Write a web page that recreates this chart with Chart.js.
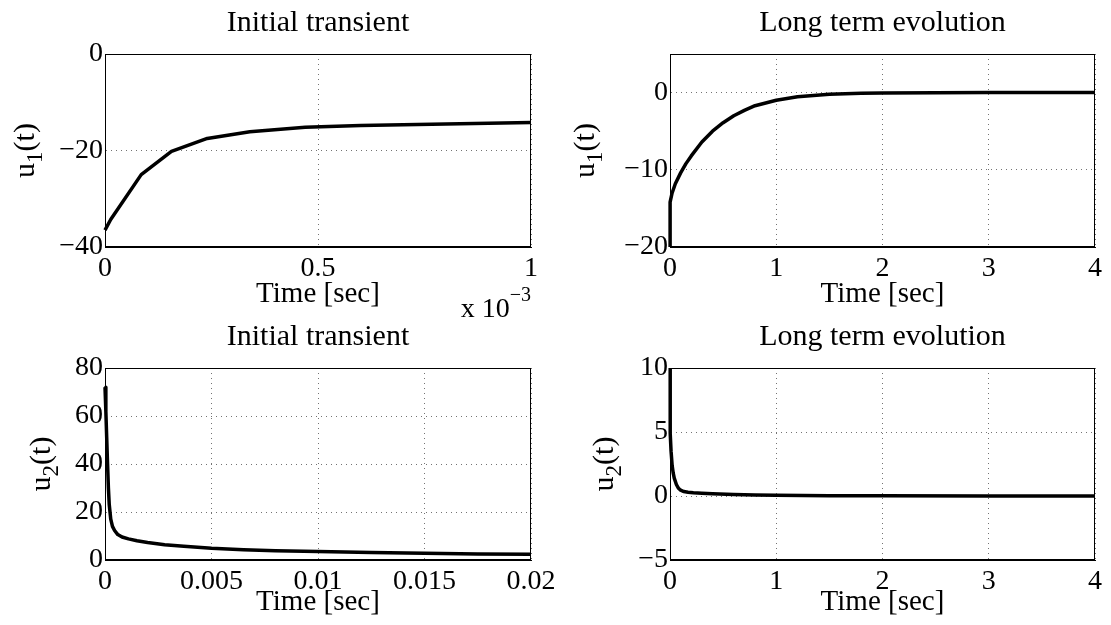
<!DOCTYPE html>
<html>
<head>
<meta charset="utf-8">
<script src="https://cdn.jsdelivr.net/npm/chart.js@4.4.1/dist/chart.umd.min.js"></script>
<style>
  html, body { margin: 0; padding: 0; background: #fff; }
  #wrap { position: relative; width: 1111px; height: 625px; }
  #wrap canvas { position: absolute; left: 0; top: 0; }
</style>
</head>
<body>
<div id="wrap">
  <canvas id="c1" width="1111" height="625"></canvas>
  <canvas id="c2" width="1111" height="625"></canvas>
  <canvas id="c3" width="1111" height="625"></canvas>
  <canvas id="c4" width="1111" height="625"></canvas>
</div>
<script>
// u1, initial transient (time in seconds)
const tTransient1 = [0, 0.0000134, 0.000085, 0.000156, 0.00024, 0.00034, 0.00047, 0.0006, 0.0008, 0.001];
const u1Transient = [-36.5, -34.3, -25.0, -20.2, -17.5, -16.1, -15.2, -14.8, -14.5, -14.2];

// u1, long term
const tLong1 = [0, 0.001, 0.02, 0.05, 0.1, 0.15, 0.2, 0.3, 0.4, 0.5, 0.6, 0.7, 0.8, 1.0, 1.2, 1.5, 1.8, 2.0, 2.5, 3.0, 3.5, 4.0];
const u1Long = [-36.5, -14.2, -13.0, -11.8, -10.4, -9.2, -8.2, -6.4, -5.0, -3.9, -3.0, -2.3, -1.7, -1.0, -0.55, -0.22, -0.09, -0.05, -0.02, 0, 0, 0];

// u2, initial transient
const tTransient2 = [0, 0.00004, 0.00008, 0.00012, 0.00016, 0.0002, 0.00027, 0.00035, 0.00045, 0.0006, 0.0008, 0.0011,
  0.0015, 0.002, 0.0028, 0.0037, 0.005, 0.0065, 0.008, 0.01, 0.0125, 0.015, 0.0175, 0.02];
const u2Transient = [72, 62, 51, 40, 30, 23, 17, 14, 12.3, 10.6, 9.6, 8.8,
  8.0, 7.3, 6.4, 5.7, 4.9, 4.3, 3.9, 3.5, 3.1, 2.8, 2.55, 2.4];

// u2, long term
const tLong2 = [0, 0.0002, 0.0006, 0.002, 0.005, 0.01, 0.02, 0.03, 0.04, 0.06, 0.08, 0.1,
  0.13, 0.17, 0.22, 0.3, 0.4, 0.6, 0.8, 1.0, 1.5, 2, 3, 4];
const u2Long = [72, 23, 10.6, 7.3, 4.9, 3.5, 2.4, 1.8, 1.4, 0.9, 0.6, 0.45,
  0.35, 0.3, 0.26, 0.22, 0.18, 0.12, 0.08, 0.05, 0.02, 0.01, 0, 0];

// axis ticks and ranges
const xTicksTransient1 = [0, 0.0005, 0.001];
const yTicksTransient1 = [-40, -20, 0];
const yRangeTransient1 = [-40, 0];
const xTicksLong = [0, 1, 2, 3, 4];
const yTicksLong1 = [-20, -10, 0];
const yRangeLong1 = [-20, 5];
const xTicksTransient2 = [0, 0.005, 0.01, 0.015, 0.02];
const yTicksTransient2 = [0, 20, 40, 60, 80];
const yRangeTransient2 = [0, 80];
const yTicksLong2 = [-5, 0, 5, 10];
const yRangeLong2 = [-5, 10];

const titleTransient = 'Initial transient';
const titleLong = 'Long term evolution';
const xLabel = 'Time [sec]';

const W = 1111, H = 625;
const FAMILY = '"Liberation Serif", "Times New Roman", serif';
const FS = 28;      // tick labels
const FS_LABEL = 30; // titles and axis labels

function fmt(v) {
  const s = String(parseFloat(v.toFixed(8)));
  return s.replace('-', '\u2212');
}

const panelPlugin = {
  id: 'panel',
  afterDraw(chart, args, opts) {
    const ctx = chart.ctx;
    const a = chart.chartArea;
    ctx.save();
    ctx.strokeStyle = '#000';
    ctx.lineWidth = 1;
    ctx.strokeRect(Math.round(a.left) + 0.5, Math.round(a.top) + 0.5,
      Math.round(a.right - a.left) - 1, Math.round(a.bottom - a.top) - 1);

    ctx.fillStyle = '#000';
    ctx.textAlign = 'center';
    ctx.textBaseline = 'alphabetic';
    const cx = (a.left + a.right) / 2;
    ctx.font = FS_LABEL + 'px ' + FAMILY;
    ctx.fillText(opts.title, cx, a.top - 23);
    ctx.font = '29px ' + FAMILY;
    ctx.fillText(xLabel, cx, a.bottom + opts.xLabelGap);

    if (opts.exponent) {
      ctx.font = '20px ' + FAMILY;
      ctx.textAlign = 'right';
      const ew = ctx.measureText(opts.exponent).width;
      ctx.fillText(opts.exponent, a.right, a.bottom + 54);
      ctx.font = FS + 'px ' + FAMILY;
      ctx.fillText('x 10', a.right - ew, a.bottom + 70);
    }

    // rotated y label with subscript
    ctx.translate(opts.yLabelX, (a.top + a.bottom) / 2);
    ctx.rotate(-Math.PI / 2);
    ctx.textAlign = 'left';
    const parts = [
      { text: 'u', size: FS_LABEL, dy: 0 },
      { text: opts.sub, size: 23, dy: 8 },
      { text: '(t)', size: FS_LABEL, dy: 0 }
    ];
    let total = 0;
    parts.forEach(p => { ctx.font = p.size + 'px ' + FAMILY; p.w = ctx.measureText(p.text).width; total += p.w; });
    let x = -total / 2;
    parts.forEach(p => {
      ctx.font = p.size + 'px ' + FAMILY;
      ctx.fillText(p.text, x, p.dy);
      x += p.w;
    });
    ctx.restore();
  }
};

function makePanel(id, box, times, values, xTicks, yTicks, yRange, xFormat, extra) {
  const points = times.map((t, i) => ({ x: t, y: values[i] }));
  const gridOpts = { color: 'rgba(0,0,0,0.55)', lineWidth: 1, drawTicks: false };
  const borderOpts = { display: true, color: '#000', width: 1, dash: [1, 4] };
  return new Chart(document.getElementById(id), {
    type: 'scatter',
    data: {
      datasets: [{
        data: points,
        showLine: true,
        borderColor: '#000',
        borderWidth: 3.5,
        borderJoinStyle: 'round',
        pointRadius: 0,
        tension: 0,
        clip: { left: 2, top: 0, right: 0, bottom: 0 }
      }]
    },
    options: {
      responsive: false,
      animation: false,
      events: [],
      layout: { padding: { left: 0, top: box.top, right: W - box.right, bottom: 0 } },
      plugins: {
        legend: { display: false },
        tooltip: { enabled: false },
        panel: extra
      },
      scales: {
        x: {
          type: 'linear',
          min: xTicks[0],
          max: xTicks[xTicks.length - 1],
          afterBuildTicks: s => { s.ticks = xTicks.map(v => ({ value: v })); },
          afterFit: s => { s.height = H - box.bottom; },
          ticks: {
            autoSkip: false,
            maxRotation: 0,
            padding: 5,
            color: '#000',
            font: { family: FAMILY, size: FS },
            callback: xFormat
          },
          grid: gridOpts,
          border: borderOpts
        },
        y: {
          min: yRange[0],
          max: yRange[1],
          afterBuildTicks: s => { s.ticks = yTicks.map(v => ({ value: v })); },
          afterFit: s => { s.width = box.left; },
          ticks: {
            autoSkip: false,
            padding: 2,
            color: '#000',
            font: { family: FAMILY, size: FS },
            callback: v => fmt(v)
          },
          grid: gridOpts,
          border: borderOpts
        }
      }
    },
    plugins: [panelPlugin]
  });
}

window.onload = function () {
  makePanel('c1', { left: 105, top: 54, right: 531, bottom: 247 },
    tTransient1, u1Transient, xTicksTransient1, yTicksTransient1, yRangeTransient1,
    v => fmt(v * 1000),
    { title: titleTransient, sub: '1', yLabelX: 34, xLabelGap: 55, exponent: '\u22123' });

  makePanel('c2', { left: 670, top: 54, right: 1095, bottom: 247 },
    tLong1, u1Long, xTicksLong, yTicksLong1, yRangeLong1,
    v => fmt(v),
    { title: titleLong, sub: '1', yLabelX: 594, xLabelGap: 55 });

  makePanel('c3', { left: 105, top: 368, right: 531, bottom: 560 },
    tTransient2, u2Transient, xTicksTransient2, yTicksTransient2, yRangeTransient2,
    v => fmt(v),
    { title: titleTransient, sub: '2', yLabelX: 50, xLabelGap: 50 });

  makePanel('c4', { left: 670, top: 368, right: 1095, bottom: 560 },
    tLong2, u2Long, xTicksLong, yTicksLong2, yRangeLong2,
    v => fmt(v),
    { title: titleLong, sub: '2', yLabelX: 613, xLabelGap: 50 });
};
</script>
</body>
</html>
